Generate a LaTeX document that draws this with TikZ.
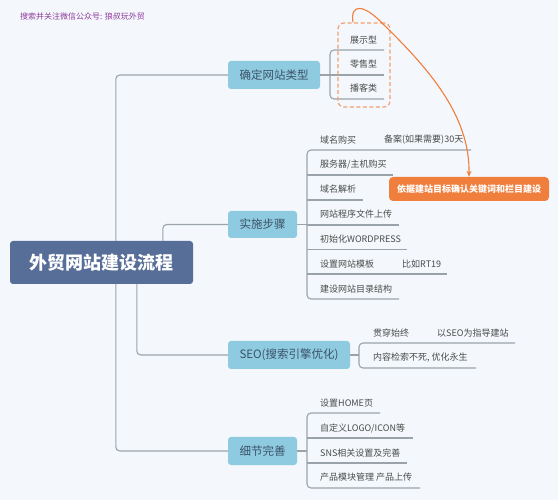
\documentclass[tikz,border=0pt]{standalone}
\usepackage{fontspec}
\setmainfont{Noto Sans CJK SC}
\usetikzlibrary{arrows.meta,calc}
\definecolor{bgc}{HTML}{F4F8FC}
\definecolor{rootc}{HTML}{576E98}
\definecolor{lvone}{HTML}{8FCBE0}
\definecolor{lvtext}{HTML}{3B5268}
\definecolor{linec}{HTML}{9AA2AA}
\definecolor{orangec}{HTML}{F07E3C}
\definecolor{dashc}{HTML}{F2A070}
\definecolor{leaftext}{HTML}{4A4A4A}
\definecolor{headc}{HTML}{8E3A9A}
\tikzset{
  rootbox/.style={fill=rootc, rounded corners=3pt, text=white, font=\fontsize{18}{20}\selectfont\bfseries, minimum width=183pt, minimum height=43pt, inner sep=0pt},
  topicbox/.style={fill=lvone, rounded corners=3pt, text=lvtext, font=\fontsize{11.5}{13}\selectfont, minimum height=28pt, inner sep=0pt},
  leaf/.style={anchor=west, text=leaftext, font=\fontsize{9}{10}\selectfont, inner sep=0pt},
  conn/.style={draw=linec, line width=1.1pt, rounded corners=4pt},
  uline/.style={draw=linec, line width=1.1pt},
}
\begin{document}
\begin{tikzpicture}[x=1pt,y=-1pt]
\fill[bgc] (0,0) rectangle (558,500);
\useasboundingbox (0,0) rectangle (558,500);

\node[anchor=west, text=headc, font=\fontsize{8}{9}\selectfont, inner sep=0pt] (head) at (20,16) {搜索并关注微信公众号: 狼叔玩外贸};

% root and topics
\node[rootbox] (root) at (101.5,262.5) {外贸网站建设流程};
\node[topicbox, minimum width=92pt] (t1) at (274,75) {确定网站类型};
\node[topicbox, minimum width=69pt, minimum height=27pt] (t2) at (262.5,224.5) {实施步骤};
\node[topicbox, minimum width=122pt] (t3) at (289,355) {SEO(搜索引擎优化)};
\node[topicbox, minimum width=69pt] (t4) at (262.5,451) {细节完善};

% root connectors
\draw[conn] ([xshift=106pt]root.north west) |- (t1.west);
\draw[conn] ([xshift=106pt]root.south west) |- (t4.west);
\draw[conn] ([xshift=153pt]root.north west) |- (t2.west);
\draw[conn] ([xshift=127pt]root.south west) |- (t3.west);

% ---- t1 children
\node[leaf] (a1) at (350,40) {展示型};
\node[leaf] (a2) at (350,64) {零售型};
\node[leaf] (a3) at (350,88) {播客类};
\draw[conn] (384,50) -- (330,50) -- (330,99) -- (384,99);
\draw[uline] (330,75) -- (384,75);
\draw[uline] (t1.east) -- (330,75);
\node[draw=dashc, dash pattern=on 4pt off 2.5pt, line width=1.2pt, rounded corners=6pt, minimum width=52pt, minimum height=84pt, inner sep=0pt] (dbox) at (364,65) {};

% ---- t2 children
\node[leaf] (b1) at (320,140) {域名购买};
\node[leaf] (b1x) at (384,140) {备案(如果需要)30天};
\node[leaf] (b2) at (320,164.5) {服务器/主机购买};
\node[leaf] (b3) at (320,189) {域名解析};
\node[leaf] (b4) at (320,214) {网站程序文件上传};
\node[leaf] (b5) at (320,239) {初始化WORDPRESS};
\node[leaf] (b6) at (320,264) {设置网站模板};
\node[leaf] (b6x) at (402,264) {比如RT19};
\node[leaf] (b7) at (320,289) {建设网站目录结构};
\draw[conn] (471,150) -- (307,150) -- (307,299) -- (399,299);
\draw[uline] (307,175) -- (393,175);
\draw[uline] (307,200) -- (363,200);
\draw[uline] (307,225) -- (399,225);
\draw[uline] (307,249.5) -- (407,249.5);
\draw[uline] (307,274) -- (447,274);
\draw[uline] (t2.east) -- (307,224.5);

% orange callout
\node[fill=orangec, rounded corners=4pt, minimum width=160pt, minimum height=24pt, inner sep=0pt, text=white, font=\fontsize{9}{10}\selectfont\bfseries] (ob) at (469,189) {依据建站目标确认关键词和栏目建设};
\draw[draw=orangec, line width=1.1pt, -{Stealth[length=6pt,width=5pt]}]
  ([xshift=-11pt]dbox.north) .. controls (350,3) and (364,4) .. (383,24)
  .. controls (428,68) and (470,115) .. (ob.north);

% ---- t3 children
\node[leaf] (s1) at (373,333) {贯穿始终};
\node[leaf] (s1x) at (437,333) {以SEO为指导建站};
\node[leaf] (s2) at (373,358) {内容检索不死, 优化永生};
\draw[conn] (515,343) -- (359,343) -- (359,368) -- (476,368);
\draw[uline] (t3.east) -- (359,355);

% ---- t4 children
\node[leaf] (d1) at (320,403) {设置HOME页};
\node[leaf] (d2) at (320,428) {自定义LOGO/ICON等};
\node[leaf] (d3) at (320,453) {SNS相关设置及完善};
\node[leaf] (d4) at (320,477.5) {产品模块管理 产品上传};
\draw[conn] (380,413) -- (307,413) -- (307,488) -- (420,488);
\draw[uline] (307,438) -- (413,438);
\draw[uline] (307,463) -- (407,463);
\draw[uline] (t4.east) -- (307,451);
\end{tikzpicture}
\end{document}
